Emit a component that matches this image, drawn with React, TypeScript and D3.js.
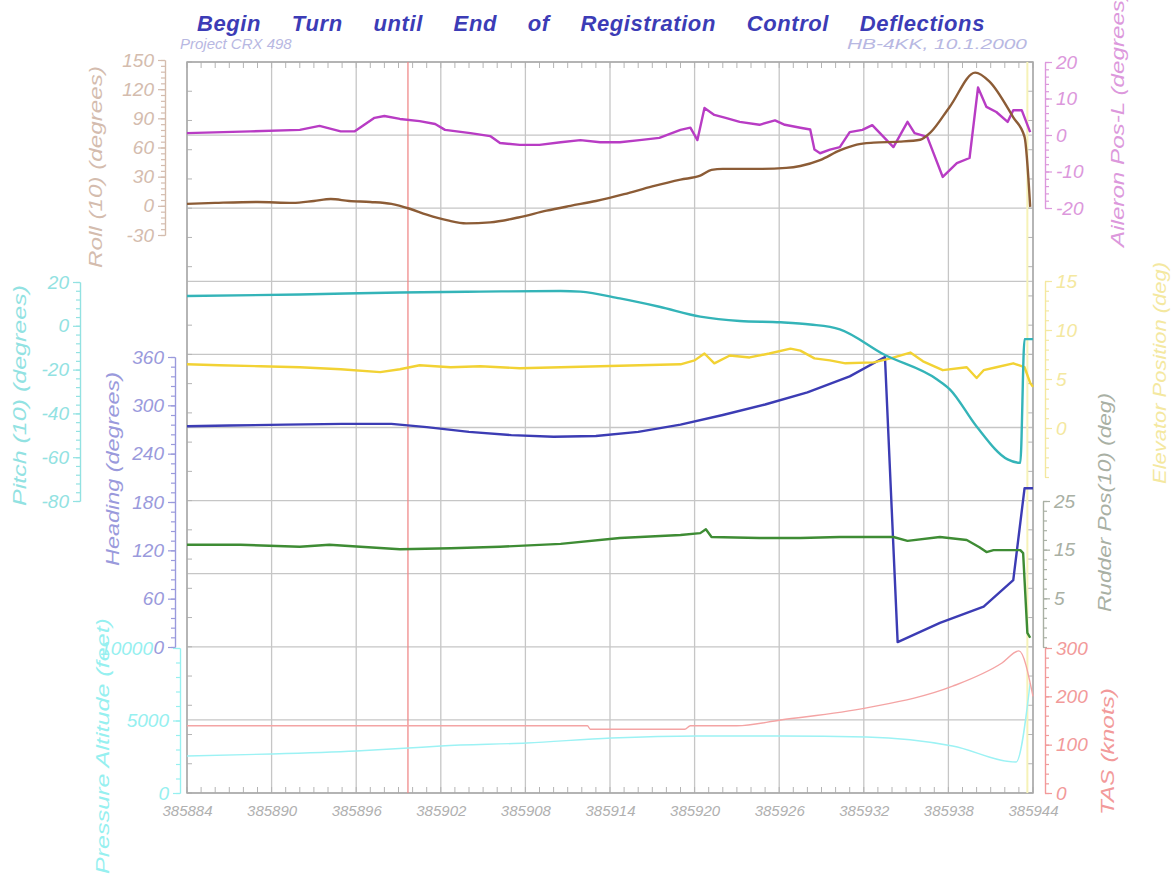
import React, { useEffect, useRef } from 'react';
import * as d3 from 'd3';

// time axis (seconds of day)
const xTicks = [385884, 385890, 385896, 385902, 385908, 385914, 385920, 385926, 385932, 385938, 385944];
const markerTimes = [385899.67, 385943.6];

// [time, value]
const roll: [number, number][] = [
  [385884.0, 2], [385886.0, 3], [385889.0, 4], [385891.5, 3], [385893.0, 5], [385894.2, 7],
  [385895.5, 5], [385897.0, 4], [385898.5, 2], [385899.8, -3], [385901.0, -9], [385902.5, -15],
  [385903.8, -18], [385905.5, -17], [385907.5, -12], [385909.5, -5], [385911.2, 0], [385913.0, 5],
  [385915.0, 12], [385917.0, 20], [385919.0, 27], [385920.4, 31], [385921.2, 37], [385922.0, 38],
  [385924.6, 38], [385926.5, 39], [385927.5, 41], [385928.9, 47], [385930.3, 57], [385931.5, 63],
  [385932.7, 65], [385934.5, 66], [385936.0, 68], [385936.7, 75], [385938.1, 102], [385939.9, 137],
  [385940.9, 128], [385942.6, 91], [385943.4, 71], [385943.8, -1],
];

const aileron: [number, number][] = [
  [385884.0, 0.5], [385888.5, 1], [385892.0, 1.4], [385893.4, 2.5], [385894.9, 1], [385895.9, 1],
  [385897.3, 4.7], [385898.0, 5.2], [385899.1, 4.4], [385900.5, 3.8], [385901.6, 3], [385902.3, 1.4],
  [385904.1, 0.5], [385905.5, -0.3], [385906.2, -2.2], [385907.6, -2.7], [385909.0, -2.7], [385910.5, -2],
  [385911.9, -1.4], [385913.3, -2], [385914.7, -2], [385916.1, -1.4], [385917.5, -0.8], [385919.0, 1.4],
  [385919.7, 2], [385920.2, -1.4], [385920.7, 7.4], [385921.4, 5.5], [385922.2, 4.7], [385923.2, 3.6],
  [385924.6, 2.8], [385925.7, 4], [385926.4, 2.8], [385927.5, 2], [385928.2, 1.5], [385928.5, -4],
  [385928.9, -5], [385929.6, -4], [385930.3, -3.3], [385931.0, 0.8], [385931.9, 1.4], [385932.6, 2.7],
  [385933.4, -0.5], [385934.1, -3.3], [385935.1, 3.6], [385935.6, 0.5], [385936.5, -0.5], [385937.6, -11.5],
  [385938.6, -7.7], [385939.5, -6.3], [385940.1, 13], [385940.7, 7.7], [385941.4, 6.3], [385942.2, 3.6],
  [385942.6, 6.8], [385943.2, 6.8], [385943.8, 0.8],
];

const pitch: [number, number][] = [
  [385884.0, 13.6], [385892.0, 14.3], [385899.1, 15.2], [385904.8, 15.6], [385910.5, 15.9],
  [385911.9, 15.6], [385914.7, 12.5], [385917.5, 8.7], [385920.4, 4.2], [385923.2, 2.2],
  [385926.1, 1.6], [385928.2, 0.6], [385930.3, -1.6], [385933.4, -13], [385937.2, -24.5],
  [385938.1, -29], [385940.0, -46], [385942.2, -61], [385943.1, -62.6], [385943.4, -6.1], [385944.0, -6.1],
];

const heading: [number, number][] = [
  [385884.0, 274], [385887.0, 275], [385891.0, 276], [385895.0, 277], [385898.5, 277], [385901.0, 273],
  [385904.0, 267], [385907.0, 263], [385910.0, 261], [385913.0, 262], [385916.0, 267], [385919.0, 276],
  [385922.0, 288], [385925.0, 301], [385928.0, 316], [385931.0, 336], [385933.5, 360], [385934.4, 6],
  [385937.4, 30], [385940.5, 50], [385942.6, 83], [385943.4, 197], [385944.0, 197],
];

const elevator: [number, number][] = [
  [385884.0, 6.5], [385886.3, 6.4], [385889.2, 6.3], [385892.0, 6.2], [385894.9, 6.0], [385897.7, 5.7],
  [385899.1, 6.0], [385900.5, 6.4], [385902.7, 6.2], [385904.8, 6.3], [385907.6, 6.1], [385910.5, 6.2],
  [385913.3, 6.3], [385916.1, 6.4], [385919.0, 6.5], [385920.0, 6.9], [385920.7, 7.6], [385921.4, 6.6],
  [385922.5, 7.4], [385923.9, 7.2], [385925.3, 7.6], [385926.8, 8.1], [385927.5, 7.9], [385928.5, 7.1],
  [385929.6, 6.9], [385930.7, 6.6], [385932.7, 6.7], [385933.9, 7.1], [385935.3, 7.7], [385936.2, 6.8],
  [385937.6, 5.9], [385939.3, 6.2], [385940.0, 5.1], [385940.5, 5.9], [385941.4, 6.2], [385942.6, 6.6],
  [385943.4, 6.2], [385943.8, 4.6], [385944.0, 4.2],
];

const rudder: [number, number][] = [
  [385884.0, 16.0], [385887.8, 16.0], [385892.0, 15.6], [385894.1, 16.0], [385896.3, 15.6], [385899.1, 15.1],
  [385902.7, 15.3], [385906.2, 15.6], [385910.5, 16.2], [385914.7, 17.4], [385919.0, 18.0], [385920.4, 18.4],
  [385920.8, 19.2], [385921.2, 17.6], [385924.6, 17.4], [385927.5, 17.4], [385930.3, 17.6], [385934.1, 17.6],
  [385935.1, 16.8], [385937.4, 17.6], [385939.3, 17.0], [385940.2, 15.5], [385940.7, 14.5], [385941.2, 14.9],
  [385943.1, 14.9], [385943.3, 14.3], [385943.6, -2.1], [385943.8, -3.1],
];

const altitude: [number, number][] = [
  [385884.0, 2550], [385890.0, 2690], [385896.0, 2900], [385899.7, 3100], [385902.0, 3240], [385908.1, 3450],
  [385914.1, 3790], [385920.2, 3930], [385926.1, 3930], [385932.2, 3860], [385938.3, 3240], [385942.8, 2140],
  [385943.8, 7600],
];

const tas: [number, number][] = [
  [385884.0, 139], [385912.4, 139], [385912.6, 132], [385919.3, 132], [385919.7, 139], [385923.0, 139],
  [385926.1, 151], [385932.2, 176], [385938.3, 221], [385941.8, 269], [385943.0, 294], [385944.0, 200],
];

const rollTicks = [-30, 0, 30, 60, 90, 120, 150];
const aileronTicks = [-20, -10, 0, 10, 20];
const pitchTicks = [-80, -60, -40, -20, 0, 20];
const headingTicks = [0, 60, 120, 180, 240, 300, 360];
const elevatorTicks = [0, 5, 10, 15];
const rudderTicks = [5, 15, 25];
const altitudeTicks = [0, 5000, 10000];
const tasTicks = [0, 100, 200, 300];

const FONT = '"Liberation Sans", Arial, sans-serif';

export default function App() {
  const ref = useRef<SVGSVGElement>(null);

  useEffect(() => {
    const svg = d3.select(ref.current);
    svg.selectAll('*').remove();
    const W = 1176, H = 877;
    const plot = { left: 187, right: 1033, top: 62, bottom: 793 };

    svg.append('rect').attr('width', W).attr('height', H).attr('fill', '#fff');

    const x = d3.scaleLinear().domain([xTicks[0], xTicks[xTicks.length - 1]]).range([plot.left, plot.right]);
    const gy = d3.scaleLinear().domain([0, 10]).range([plot.bottom, plot.top]);

    // grid
    svg.append('g').selectAll('line').data(xTicks).join('line')
      .attr('x1', d => x(d)).attr('x2', d => x(d)).attr('y1', plot.top).attr('y2', plot.bottom)
      .attr('stroke', '#c6c6c6').attr('stroke-width', 1.3);
    svg.append('g').selectAll('line').data(d3.range(11)).join('line')
      .attr('x1', plot.left).attr('x2', plot.right).attr('y1', d => gy(d)).attr('y2', d => gy(d))
      .attr('stroke', '#c6c6c6').attr('stroke-width', 1.3);

    // frame minor ticks
    const secs = d3.range(xTicks[0], xTicks[xTicks.length - 1] + 0.01, 1);
    const fr = svg.append('g').attr('stroke', '#b4b4b4').attr('stroke-width', 1);
    fr.selectAll('line.b').data(secs).join('line').attr('class', 'b')
      .attr('x1', d => x(d)).attr('x2', d => x(d)).attr('y1', plot.bottom).attr('y2', plot.bottom - 6);
    fr.selectAll('line.t').data(secs).join('line').attr('class', 't')
      .attr('x1', d => x(d)).attr('x2', d => x(d)).attr('y1', plot.top).attr('y2', plot.top + 6);
    const subs = d3.range(0, 10.01, 0.4);
    fr.selectAll('line.l').data(subs).join('line').attr('class', 'l')
      .attr('x1', plot.left).attr('x2', plot.left + 5).attr('y1', d => gy(d)).attr('y2', d => gy(d));
    fr.selectAll('line.r').data(subs).join('line').attr('class', 'r')
      .attr('x1', plot.right).attr('x2', plot.right - 5).attr('y1', d => gy(d)).attr('y2', d => gy(d));

    svg.append('rect').attr('x', plot.left).attr('y', plot.top)
      .attr('width', plot.right - plot.left).attr('height', plot.bottom - plot.top)
      .attr('fill', 'none').attr('stroke', '#a9a9a9').attr('stroke-width', 1.5);

    // markers
    svg.append('line').attr('x1', x(markerTimes[0])).attr('x2', x(markerTimes[0]))
      .attr('y1', plot.top).attr('y2', plot.bottom).attr('stroke', '#f08a8a').attr('stroke-width', 1.3);
    svg.append('line').attr('x1', x(markerTimes[1])).attr('x2', x(markerTimes[1]))
      .attr('y1', plot.top).attr('y2', plot.bottom).attr('stroke', '#f6f2b8').attr('stroke-width', 2);

    // bottom axis labels
    const xa = svg.append('g').attr('transform', `translate(0,${plot.bottom})`)
      .call(d3.axisBottom(x).tickValues(xTicks).tickSize(0).tickPadding(12).tickFormat(d => String(d)));
    xa.select('.domain').remove();
    xa.selectAll('text').attr('fill', '#b0b0b0').attr('font-size', 15).attr('font-family', FONT)
      .attr('font-style', 'italic');

    const axes = [
      { side: 'left', x: 165, domain: [-30, 150], range: [235, 60], ticks: rollTicks, minor: 6, color: '#d4bcae',
        label: 'Roll (10) (degrees)', lx: 96, ly0: 268, ly1: 66 },
      { side: 'right', x: 1045, domain: [-20, 20], range: [208, 62], ticks: aileronTicks, minor: 2, color: '#dc98dc',
        label: 'Aileron Pos-L (degrees)', lx: 1118, ly0: 247, ly1: -8 },
      { side: 'left', x: 80, domain: [-80, 20], range: [501, 282], ticks: pitchTicks, minor: 4, color: '#92e2e2',
        label: 'Pitch (10) (degrees)', lx: 20, ly0: 506, ly1: 285 },
      { side: 'left', x: 175, domain: [0, 360], range: [647, 357], ticks: headingTicks, minor: 12, color: '#9a9adc',
        label: 'Heading (degrees)', lx: 113, ly0: 566, ly1: 372 },
      { side: 'right', x: 1045, domain: [-5, 15], range: [477, 281], ticks: elevatorTicks, minor: 1, color: '#f4e8a0',
        label: 'Elevator Position (deg)', lx: 1160, ly0: 484, ly1: 262 },
      { side: 'right', x: 1043, domain: [-5, 25], range: [647, 501], ticks: rudderTicks, minor: 2, color: '#a9b0a4',
        label: 'Rudder Pos(10) (deg)', lx: 1105, ly0: 612, ly1: 393 },
      { side: 'left', x: 180, domain: [0, 10000], range: [793, 648], ticks: altitudeTicks, minor: 1000, color: '#96f0f0',
        label: 'Pressure Altitude (feet)', lx: 103, ly0: 874, ly1: 618 },
      { side: 'right', x: 1045, domain: [0, 300], range: [793, 648], ticks: tasTicks, minor: 20, color: '#f29a9a',
        label: 'TAS (knots)', lx: 1108, ly0: 815, ly1: 688 },
    ];

    const scales: d3.ScaleLinear<number, number>[] = [];
    axes.forEach(a => {
      const s = d3.scaleLinear().domain(a.domain).range(a.range);
      scales.push(s);
      const mk = () => (a.side === 'left' ? d3.axisLeft(s) : d3.axisRight(s));
      const ga = svg.append('g').attr('transform', `translate(${a.x},0)`);
      ga.call(mk().tickValues(a.ticks).tickSize(7).tickSizeOuter(0).tickPadding(4).tickFormat(d => String(d)));
      ga.append('g').call(mk().tickValues(d3.range(a.domain[0], a.domain[1] + 1e-6, a.minor))
        .tickSize(4).tickSizeOuter(0).tickFormat(() => ''));
      ga.selectAll('path, line').attr('stroke', a.color).attr('stroke-width', 1.2);
      ga.selectAll('text').attr('fill', a.color).attr('font-size', 19).attr('font-family', FONT)
        .attr('font-style', 'italic');
      svg.append('text')
        .attr('transform', `translate(${a.lx + 6},${a.ly0}) rotate(-90)`)
        .attr('textLength', a.ly0 - a.ly1).attr('lengthAdjust', 'spacingAndGlyphs')
        .attr('fill', a.color).attr('font-size', 18).attr('font-family', FONT).attr('font-style', 'italic')
        .text(a.label);
    });
    const [rollY, aileronY, pitchY, headingY, elevY, rudderY, altY, tasY] = scales;

    // the 10000 label sits half hidden next to the heading 0 label
    svg.selectAll<SVGTextElement, number>('g.tick text').filter(d => d === 10000).attr('dx', -16);

    const series = [
      { data: altitude, y: altY, color: '#9cf2f4', w: 1.4, curve: d3.curveMonotoneX },
      { data: tas, y: tasY, color: '#f4a4a4', w: 1.4, curve: d3.curveMonotoneX },
      { data: heading, y: headingY, color: '#3c3cb4', w: 2.4, curve: d3.curveLinear },
      { data: rudder, y: rudderY, color: '#3e8c34', w: 2.4, curve: d3.curveLinear },
      { data: elevator, y: elevY, color: '#f2d234', w: 2.4, curve: d3.curveLinear },
      { data: pitch, y: pitchY, color: '#34b4b8', w: 2.4, curve: d3.curveMonotoneX },
      { data: aileron, y: aileronY, color: '#b83cc4', w: 2.4, curve: d3.curveLinear },
      { data: roll, y: rollY, color: '#8c5c36', w: 2.4, curve: d3.curveMonotoneX },
    ];
    series.forEach(s => {
      const line = d3.line<[number, number]>().x(d => x(d[0])).y(d => s.y(d[1])).curve(s.curve);
      svg.append('path').datum(s.data).attr('d', line).attr('fill', 'none')
        .attr('stroke', s.color).attr('stroke-width', s.w).attr('stroke-linejoin', 'round');
    });

    // titles
    const titleText = 'Begin Turn until End of Registration Control Deflections';
    const title = svg.append('text').attr('x', 197).attr('y', 31)
      .attr('fill', '#3c3cb6').attr('font-size', 22).attr('font-weight', 'bold').attr('font-style', 'italic')
      .attr('letter-spacing', 0.6).attr('font-family', FONT).text(titleText);
    const tn = title.node() as SVGTextElement;
    const gaps = titleText.split(' ').length - 1;
    const extra = (788 - tn.getComputedTextLength()) / gaps;
    title.attr('word-spacing', Math.max(0, extra));

    svg.append('text').attr('x', 180).attr('y', 49).attr('fill', '#b8b8e2').attr('font-size', 15)
      .attr('font-style', 'italic').attr('font-family', FONT).text('Project CRX 498');
    svg.append('text').attr('x', 1027).attr('y', 49).attr('text-anchor', 'end').attr('fill', '#b8b8e2')
      .attr('textLength', 180).attr('lengthAdjust', 'spacingAndGlyphs')
      .attr('font-size', 15).attr('font-style', 'italic').attr('font-family', FONT).text('HB-4KK, 10.1.2000');
  }, []);

  return <svg ref={ref} width={1176} height={877} style={{ position: 'absolute', left: 0, top: 0 }} />;
}
